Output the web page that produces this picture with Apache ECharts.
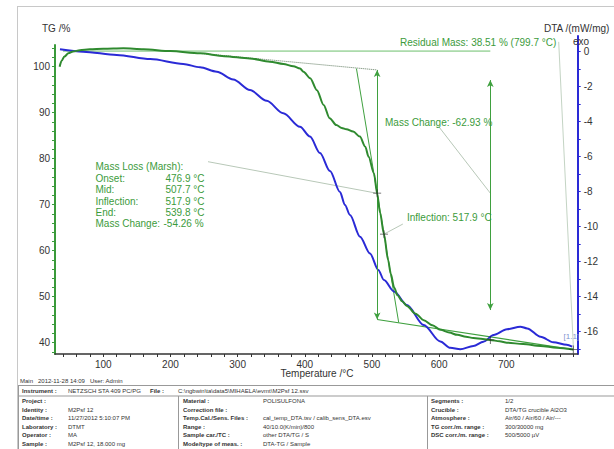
<!DOCTYPE html>
<html>
<head>
<meta charset="utf-8">
<script src="https://cdn.jsdelivr.net/npm/echarts@6/dist/echarts.min.js"></script>
<style>
  html, body { margin: 0; padding: 0; background: #fff; }
  #chart { width: 614px; height: 449px; }
</style>
</head>
<body>
<div id="chart"></div>
<script>
// TG curve: sample temperature (°C) and remaining mass (%)
const tgTemperature = [35, 38, 42, 48, 55, 65, 80, 100, 130, 160, 200, 244, 280, 318, 348, 368, 383, 393, 398, 408, 418, 428, 437, 447, 455, 462, 472, 482, 490, 495, 503, 507.7, 512, 517.9, 524, 528, 533, 538, 545, 552, 565, 577, 590, 602, 615, 627, 640, 651, 665, 676, 690, 701, 725, 751, 775, 799.7];
const tgMass = [100.0, 101.3, 102.2, 102.9, 103.3, 103.6, 103.8, 103.9, 104.0, 103.8, 103.4, 102.9, 102.3, 101.8, 101.1, 100.6, 100.1, 99.6, 98.9, 97.5, 94.9, 91.7, 88.8, 87.3, 86.7, 86.4, 85.9, 84.8, 82.6, 80.4, 76.8, 72.5, 68.3, 63.6, 58.0, 55.0, 52.0, 50.3, 49.0, 48.0, 46.3, 44.9, 43.8, 42.8, 42.2, 41.7, 41.3, 41.0, 40.8, 40.6, 40.3, 40.0, 39.7, 39.3, 38.9, 38.51];

// DTA curve: sample temperature (°C) and signal (mW/mg)
const dtaTemperature = [35.5, 70, 120, 170, 219, 244, 269, 293.5, 318.4, 343.3, 368, 392.8, 407.7, 422.6, 437.5, 452.4, 459.8, 467.3, 482.2, 497.1, 509.4, 517.9, 532.8, 552.1, 577, 601.7, 616.6, 631.5, 651, 666, 681, 701, 721, 731, 751, 770, 790, 798];
const dtaSignal = [0.14, 0, -0.19, -0.42, -0.70, -0.89, -1.14, -1.59, -2.19, -2.81, -3.52, -4.29, -4.85, -5.79, -6.82, -8.02, -8.76, -9.33, -10.57, -11.53, -12.47, -13.05, -13.70, -14.47, -15.62, -16.56, -16.92, -17.0, -16.82, -16.57, -16.19, -15.86, -15.71, -15.81, -16.29, -16.6, -16.75, -16.85];

// Axis tick labels
const temperatureLabels = [100, 200, 300, 400, 500, 600, 700];
const tgLabels = [40, 50, 60, 70, 80, 90, 100];
const dtaLabels = [0, -2, -4, -6, -8, -10, -12, -14, -16];

// Mass-loss evaluation (Marsh) construction lines, in °C / %
const residualLine = [[40, 103.4], [676.2, 103.4]];
const upperBaseline = [[244, 102.9], [507.7, 99.3]];
const lowerBaseline = [[507.7, 45.04], [799.7, 38.51]];
const onsetTangent = [[476.9, 99.6], [539.8, 44.4]];
const marshStep = [[507.7, 99.3], [507.7, 45.04]];
const massChangeStep = [[676.2, 97.1], [676.2, 47.1]];
const evalPoints = [[507.7, 72.5], [517.9, 63.6], [676.2, 40.6], [799.7, 38.51]];

// Leader lines from result texts to their points
const leaderMarsh = [[255.9, 79.35], [506.8, 72.5]];
const leaderInflection = [[546, 65.8], [517.9, 63.6]];
const leaderMassChange = [[599.3, 87.0], [676.2, 72.5]];
const leaderResidual = [[778, 105.4], [800, 38.6]];

const T_MIN = 28.1, T_MAX = 806.3;

function zip(xs, ys) { return xs.map((x, i) => [x, ys[i]]); }
function range(a, b, step) { const out = []; for (let v = a; v <= b + 1e-9; v += step) out.push(+v.toFixed(3)); return out; }

const GREEN_TEXT = '#3b9b3b';
const GREEN_LINE = '#3fa03f';
const FONT = 'Liberation Sans, Arial, sans-serif';

function plainLine(data, color, width, type, extra) {
  return Object.assign({
    type: 'line', xAxisIndex: 0, yAxisIndex: 0, data: data,
    showSymbol: false, symbol: 'none', silent: true,
    lineStyle: { color: color, width: width, type: type || 'solid' },
    z: 3
  }, extra || {});
}

function stepArrow(data) {
  return {
    type: 'line', xAxisIndex: 0, yAxisIndex: 0, data: [], silent: true,
    markLine: {
      silent: true, symbol: ['arrow', 'arrow'], symbolSize: [5, 7],
      label: { show: false },
      lineStyle: { color: GREEN_LINE, width: 1, type: 'solid' },
      data: [[{ coord: data[0] }, { coord: data[1] }]]
    }
  };
}

function txt(text, x, y, opts) {
  return {
    type: 'text', silent: true, z: 50,
    style: Object.assign({
      text: text, x: x, y: y, fill: '#333', font: '10px ' + FONT,
      textAlign: 'left', textVerticalAlign: 'middle'
    }, opts || {})
  };
}
function hline(x1, x2, y, color) {
  return { type: 'line', silent: true, z: 40, shape: { x1: x1, y1: y, x2: x2, y2: y }, style: { stroke: color || '#aaa', lineWidth: 1 } };
}
function vline(x, y1, y2, color) {
  return { type: 'line', silent: true, z: 40, shape: { x1: x, y1: y1, x2: x, y2: y2 }, style: { stroke: color || '#aaa', lineWidth: 1 } };
}

// Report footer
const smallFont = '6px ' + FONT;
const boldFont = 'bold 6px ' + FONT;
const rowY = [401, 409.5, 418, 426.5, 435, 443.5];
const col1Labels = ['Project :', 'Identity :', 'Date/time :', 'Laboratory :', 'Operator :', 'Sample :'];
const col1Values = ['', 'M2Psf 12', '11/27/2012 5:10:07 PM', 'DTMT', 'MA', 'M2Psf 12, 18.000 mg'];
const col2Labels = ['Material :', 'Correction file :', 'Temp.Cal./Sens. Files :', 'Range :', 'Sample car./TC :', 'Mode/type of meas. :'];
const col2Values = ['POLISULFONA', '', 'cal_temp_DTA.tsv / calib_sens_DTA.esv', '40/10.0(K/min)/800', 'other DTA/TG / S', 'DTA-TG / Sample'];
const col3Labels = ['Segments :', 'Crucible :', 'Atmosphere :', 'TG corr./m. range :', 'DSC corr./m. range :'];
const col3Values = ['1/2', 'DTA/TG crucible Al2O3', 'Air/60 / Air/60 / Air/---', '300/30000 mg', '500/5000 µV'];

const graphics = [
  // outer report frame
  hline(17, 614, 6.5, '#c8c8c8'),
  vline(17.5, 6, 449, '#c8c8c8'),
  // axis titles
  txt('TG /%', 42, 28.5),
  txt('DTA /(mW/mg)', 544, 28.5),
  txt('exo', 573, 41.5),
  txt('Temperature /°C', 317, 373.5, { textAlign: 'center' }),
  // evaluation texts
  txt('Residual Mass: 38.51 % (799.7 °C)', 400, 42, { fill: GREEN_TEXT }),
  txt('Mass Change: -62.93 %', 385, 122, { fill: GREEN_TEXT }),
  txt('Inflection: 517.9 °C', 407, 217.5, { fill: GREEN_TEXT }),
  txt('Mass Loss (Marsh):', 95.5, 166.7, { fill: GREEN_TEXT }),
  txt('Onset:', 95.5, 178.2, { fill: GREEN_TEXT }),
  txt('476.9 °C', 165.5, 178.2, { fill: GREEN_TEXT }),
  txt('Mid:', 95.5, 189.7, { fill: GREEN_TEXT }),
  txt('507.7 °C', 165.5, 189.7, { fill: GREEN_TEXT }),
  txt('Inflection:', 95.5, 201.2, { fill: GREEN_TEXT }),
  txt('517.9 °C', 165.5, 201.2, { fill: GREEN_TEXT }),
  txt('End:', 95.5, 212.5, { fill: GREEN_TEXT }),
  txt('539.8 °C', 165.5, 212.5, { fill: GREEN_TEXT }),
  txt('Mass Change:', 95.5, 223.7, { fill: GREEN_TEXT }),
  txt('-54.26 %', 163.5, 223.7, { fill: GREEN_TEXT }),
  txt('[1.1]', 563.5, 336.5, { fill: '#7f93cf', font: '8px ' + FONT }),
  // footer
  txt('Main   2012-11-28 14:09   User: Admin', 20, 381, { font: smallFont }),
  hline(18, 614, 385.5, '#999'),
  vline(18.5, 385, 449, '#999'),
  txt('Instrument :', 22, 391, { font: boldFont }),
  txt('NETZSCH STA 409 PC/PG', 68, 391, { font: smallFont }),
  txt('File :', 150, 391, { font: boldFont }),
  txt('C:\\ngbwin\\ta\\data5\\MIHAELA\\evmt\\M2Psf 12.ssv', 178, 391, { font: smallFont }),
  hline(18, 614, 396, '#999'),
  vline(178.5, 396, 449, '#999'),
  vline(427.5, 396, 449, '#999')
];
col1Labels.forEach((l, i) => { graphics.push(txt(l, 22, rowY[i], { font: boldFont })); graphics.push(txt(col1Values[i], 68, rowY[i], { font: smallFont })); });
col2Labels.forEach((l, i) => { graphics.push(txt(l, 183, rowY[i], { font: boldFont })); graphics.push(txt(col2Values[i], 263, rowY[i], { font: smallFont })); });
col3Labels.forEach((l, i) => { graphics.push(txt(l, 431, rowY[i], { font: boldFont })); graphics.push(txt(col3Values[i], 505, rowY[i], { font: smallFont })); });

const chart = echarts.init(document.getElementById('chart'), null, { renderer: 'svg' });
chart.setOption({
  animation: false,
  backgroundColor: '#fff',
  textStyle: { fontFamily: FONT },
  grid: [
    { left: 55, right: 36.3, top: 45, bottom: 95, containLabel: false },
    { left: 55, right: 36.3, top: 36, bottom: 95, containLabel: false }
  ],
  xAxis: [
    {
      type: 'value', gridIndex: 0, min: T_MIN, max: T_MAX,
      axisLine: { show: true, onZero: false, lineStyle: { color: '#333', width: 1.5 } },
      axisTick: { show: true, customValues: range(40, 800, 20), length: 3, lineStyle: { color: '#333' } },
      axisLabel: { customValues: temperatureLabels, color: '#333', fontSize: 10, margin: 5, fontFamily: FONT },
      splitLine: { show: false }
    },
    { type: 'value', gridIndex: 1, min: T_MIN, max: T_MAX, show: false }
  ],
  yAxis: [
    {
      type: 'value', gridIndex: 0, position: 'left', min: 37.54, max: 104.72,
      axisLine: { show: true, onZero: false, lineStyle: { color: '#3a9a3a', width: 2 } },
      axisTick: { show: true, customValues: range(38, 104, 2), length: 3, lineStyle: { color: '#3a9a3a' } },
      axisLabel: { customValues: tgLabels, color: '#333', fontSize: 10, margin: 5, fontFamily: FONT },
      splitLine: { show: false }
    },
    {
      type: 'value', gridIndex: 1, position: 'right', min: -17.274, max: 0.897,
      axisLine: { show: true, onZero: false, lineStyle: { color: '#2a2ad6', width: 2 } },
      axisTick: { show: true, customValues: range(-17, 0, 1), length: 3, lineStyle: { color: '#2a2ad6' } },
      axisLabel: { customValues: dtaLabels, color: '#333', fontSize: 10, margin: 6, fontFamily: FONT },
      splitLine: { show: false }
    }
  ],
  graphic: graphics,
  series: [
    {
      name: 'DTA', type: 'line', xAxisIndex: 1, yAxisIndex: 1,
      data: zip(dtaTemperature, dtaSignal), showSymbol: false, symbol: 'none',
      smooth: 0.3, smoothMonotone: 'x',
      lineStyle: { color: '#2a2ad6', width: 2 }, z: 4
    },
    plainLine(residualLine, '#6cbf6c', 1),
    plainLine(upperBaseline, '#5f7a5f', 1, 'dotted'),
    plainLine(lowerBaseline, GREEN_LINE, 1.2),
    plainLine(onsetTangent, GREEN_LINE, 1),
    plainLine(leaderMarsh, '#b8c8b8', 1),
    plainLine(leaderInflection, '#b8c8b8', 1),
    plainLine(leaderMassChange, '#b8c8b8', 1),
    plainLine(leaderResidual, '#c4d4c4', 1, 'solid', { clip: false }),
    stepArrow(marshStep),
    stepArrow(massChangeStep),
    {
      name: 'TG', type: 'line', xAxisIndex: 0, yAxisIndex: 0,
      data: zip(tgTemperature, tgMass), showSymbol: false, symbol: 'none',
      smooth: 0.3, smoothMonotone: 'x',
      lineStyle: { color: '#2f8a2f', width: 2 }, z: 5
    },
    {
      type: 'scatter', xAxisIndex: 0, yAxisIndex: 0, data: evalPoints, silent: true,
      symbol: 'path://M4.5,0h1v4.5h4.5v1h-4.5v4.5h-1v-4.5h-4.5v-1h4.5z',
      symbolSize: 8, itemStyle: { color: '#222' }, z: 6
    }
  ]
});
</script>
</body>
</html>
